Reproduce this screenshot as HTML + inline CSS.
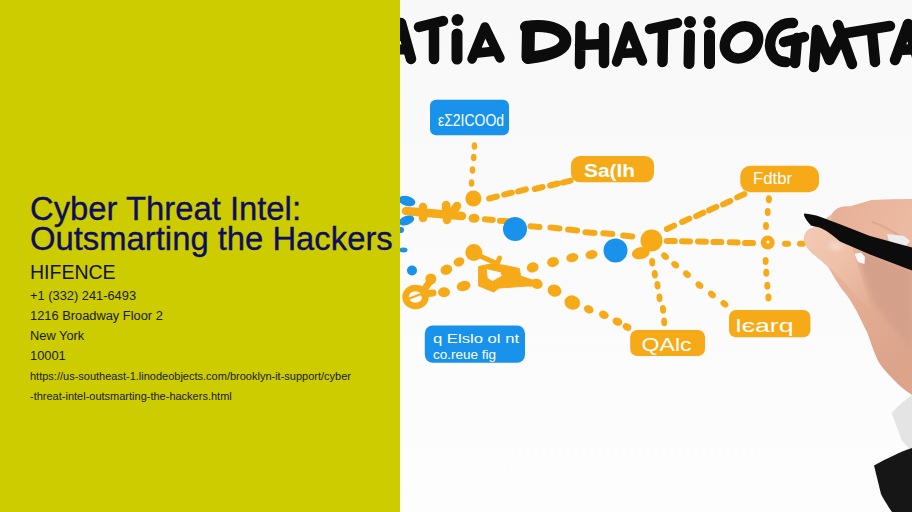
<!DOCTYPE html>
<html><head><meta charset="utf-8">
<style>
html,body{margin:0;padding:0;width:912px;height:512px;overflow:hidden;}
body{font-family:"Liberation Sans",sans-serif;background:#fff;position:relative;}
#left{position:absolute;left:0;top:0;width:400px;height:512px;background:#cccc00;}
#right{position:absolute;left:400px;top:0;width:512px;height:512px;background:linear-gradient(180deg,#f8f8f8 0%,#fafafa 40%,#fdfdfd 100%);overflow:hidden;}
#right svg{position:absolute;left:0;top:0;}
.t{position:absolute;left:30px;white-space:nowrap;}
h1{position:absolute;left:30px;top:194px;margin:0;font-weight:normal;font-size:32.8px;line-height:30px;color:#0e0e60;white-space:nowrap;-webkit-text-stroke:0.35px #0e0e60;}
.co{top:261px;font-size:19.5px;color:#111133;}
.ln{font-size:12.85px;color:#1a1a1a;}
.url{font-size:11px;color:#1a1a1a;}
</style></head><body>
<div id="left">
<h1>Cyber Threat Intel:<br>Outsmarting the Hackers</h1>
<div class="t co">HIFENCE</div>
<div class="t ln" style="top:288px">+1 (332) 241-6493</div>
<div class="t ln" style="top:308px">1216 Broadway Floor 2</div>
<div class="t ln" style="top:328px">New York</div>
<div class="t ln" style="top:348px">10001</div>
<div class="t url" style="top:370px">https://us-southeast-1.linodeobjects.com/brooklyn-it-support/cyber</div>
<div class="t url" style="top:390px">-threat-intel-outsmarting-the-hackers.html</div>
</div>
<div id="right">
<svg width="512" height="512" viewBox="400 0 512 512">
<g fill="none" stroke="#0c0c0c" stroke-width="10.5" stroke-linecap="round" stroke-linejoin="round">
<path d="M401 23 L411 59"/>
<rect x="398" y="44.5" width="9" height="10" fill="#0c0c0c" stroke="none"/><rect x="398" y="20" width="5" height="21" fill="#0c0c0c" stroke="none"/>
<path d="M419 27 L443 21 M434 28 L434 59"/>
<path d="M457 34 L457 59" stroke-width="11"/>
<path d="M472 59 L485 27 L500 58 M478 53 L496 51" stroke-width="9.5"/>
<path d="M528.5 28 L528 57" stroke-width="13"/>
<path d="M526 27 C552 23 568 32 565 43 C562 52 545 56 528 58" stroke-width="12"/>
<path d="M580.5 26 L580 64 M604 28 L604 63 M580 45 L604 44"/>
<path d="M616.5 62 L628.5 26 L642.5 61 M620 53.5 L639 52.5" stroke-width="9.5"/>
<path d="M650 29 L677 23 M663 31 L662.5 62"/>
<path d="M689.5 35 L689 63.5 M709.5 35 L709.5 63.5" stroke-width="11"/>
<ellipse cx="741.5" cy="42.4" rx="18" ry="14.5" stroke-width="10.5" transform="rotate(-40 741.5 42.4)"/>
<path d="M793 23 C778 22 770 34 770 46 C771 57 778 62 786 62 M784 42 L804 37 M797 38 L795 63"/>
<path d="M814 67 L817 30 L829.5 60 L843 34 M838 25 L852 64"/>
<path d="M847 33 L890 26 M872 31 L875 62"/>
<path d="M895 60 L908 24 L918 60 M900 50 L914 49"/>
</g>
<g fill="#0c0c0c"><circle cx="457.5" cy="20" r="6"/><circle cx="690" cy="22" r="6"/><circle cx="709.5" cy="22" r="6"/></g>
<rect x="430" y="99.8" width="79" height="35.4" rx="6" fill="#1892ea"/>
<rect x="571" y="156" width="83" height="26.3" rx="9" fill="#f7aa17"/>
<rect x="740.3" y="165.8" width="78.7" height="26.5" rx="10" fill="#f7aa17"/>
<rect x="424.8" y="325.4" width="100.2" height="37.4" rx="8" fill="#1892ea"/>
<rect x="630.2" y="330" width="74.8" height="26" rx="7" fill="#f7aa17"/>
<rect x="729" y="310" width="81.4" height="27.3" rx="7" fill="#f7aa17"/>
<g fill="#fff" font-family="Liberation Sans, sans-serif">
<text x="438" y="125.5" font-size="16" textLength="66" lengthAdjust="spacingAndGlyphs">&#949;&#931;2ICOOd</text>
<text x="584" y="176.5" font-size="19" font-weight="bold" textLength="51" lengthAdjust="spacingAndGlyphs">Sa(Ih</text>
<text x="753" y="183.5" font-size="17" textLength="39" lengthAdjust="spacingAndGlyphs">Fdtbr</text>
<text x="433" y="342.5" font-size="13" textLength="86" lengthAdjust="spacingAndGlyphs">q Elslo ol nt</text>
<text x="433" y="359" font-size="12" textLength="63" lengthAdjust="spacingAndGlyphs">co.reue fig</text>
<text x="641.6" y="350.5" font-size="19" textLength="50" lengthAdjust="spacingAndGlyphs">QAlc</text>
<text x="735.5" y="331.5" font-size="18" textLength="58" lengthAdjust="spacingAndGlyphs">l&#1108;arq</text>
</g>
<g fill="#f7aa17">
<ellipse cx="474.4" cy="146" rx="2.8" ry="3.8" transform="rotate(0 474.4 146)"/>
<ellipse cx="473.7" cy="157.5" rx="2.8" ry="3.8" transform="rotate(0 473.7 157.5)"/>
<ellipse cx="472.5" cy="170" rx="2.8" ry="3.8" transform="rotate(0 472.5 170)"/>
<ellipse cx="471.5" cy="183" rx="2.8" ry="3.8" transform="rotate(0 471.5 183)"/>
<ellipse cx="473.4" cy="198.5" rx="8" ry="8" transform="rotate(0 473.4 198.5)"/>
<ellipse cx="651.5" cy="240.5" rx="11" ry="11" transform="rotate(0 651.5 240.5)"/>
<ellipse cx="473.8" cy="252.4" rx="8.5" ry="8.5" transform="rotate(0 473.8 252.4)"/>
<ellipse cx="640.7" cy="253.2" rx="9" ry="6" transform="rotate(-10 640.7 253.2)"/>
<ellipse cx="459" cy="261.9" rx="5.5" ry="4.5" transform="rotate(-20 459 261.9)"/>
<ellipse cx="446.4" cy="269.7" rx="6" ry="5" transform="rotate(-20 446.4 269.7)"/>
<ellipse cx="444" cy="292.3" rx="6" ry="5" transform="rotate(0 444 292.3)"/>
<ellipse cx="463.6" cy="286" rx="7" ry="5" transform="rotate(-15 463.6 286)"/>
<ellipse cx="430.8" cy="279" rx="5.5" ry="5.5" transform="rotate(0 430.8 279)"/>
<ellipse cx="532.7" cy="267.4" rx="6" ry="5" transform="rotate(-15 532.7 267.4)"/>
<ellipse cx="553" cy="262" rx="6" ry="5" transform="rotate(-15 553 262)"/>
<ellipse cx="572.3" cy="257.6" rx="6" ry="4.5" transform="rotate(-10 572.3 257.6)"/>
<ellipse cx="591.5" cy="254.6" rx="6" ry="4.5" transform="rotate(-10 591.5 254.6)"/>
<ellipse cx="474" cy="218.3" rx="5.5" ry="4.5" transform="rotate(0 474 218.3)"/>
<ellipse cx="536.8" cy="283.8" rx="6" ry="5" transform="rotate(20 536.8 283.8)"/>
<ellipse cx="554.5" cy="290.6" rx="7" ry="6" transform="rotate(20 554.5 290.6)"/>
<ellipse cx="572.3" cy="302.5" rx="8" ry="7" transform="rotate(20 572.3 302.5)"/>
<ellipse cx="588.7" cy="309.3" rx="5" ry="4" transform="rotate(25 588.7 309.3)"/>
<ellipse cx="603.8" cy="314.8" rx="5" ry="4" transform="rotate(25 603.8 314.8)"/>
<ellipse cx="617.4" cy="321.6" rx="5" ry="4" transform="rotate(25 617.4 321.6)"/>
<ellipse cx="627" cy="327" rx="4.5" ry="3.5" transform="rotate(25 627 327)"/>
<ellipse cx="768.9" cy="199.2" rx="3" ry="4" transform="rotate(0 768.9 199.2)"/>
<ellipse cx="767.7" cy="212" rx="3" ry="4" transform="rotate(0 767.7 212)"/>
<ellipse cx="766" cy="226" rx="3" ry="4" transform="rotate(0 766 226)"/>
<ellipse cx="765.6" cy="261" rx="3" ry="4" transform="rotate(0 765.6 261)"/>
<ellipse cx="766.3" cy="272.8" rx="3" ry="4" transform="rotate(0 766.3 272.8)"/>
<ellipse cx="767.3" cy="285.7" rx="3" ry="4" transform="rotate(0 767.3 285.7)"/>
<ellipse cx="768.4" cy="297.4" rx="3" ry="4" transform="rotate(0 768.4 297.4)"/>
<ellipse cx="652.2" cy="262.2" rx="3" ry="4.3" transform="rotate(-5 652.2 262.2)"/>
<ellipse cx="654.8" cy="274.2" rx="3" ry="4.3" transform="rotate(-5 654.8 274.2)"/>
<ellipse cx="657.5" cy="285.2" rx="3" ry="4.3" transform="rotate(-5 657.5 285.2)"/>
<ellipse cx="659.5" cy="297.7" rx="3" ry="4.3" transform="rotate(-5 659.5 297.7)"/>
<ellipse cx="663" cy="309.4" rx="3" ry="4.3" transform="rotate(-5 663 309.4)"/>
<ellipse cx="664.2" cy="321.9" rx="3" ry="4.3" transform="rotate(-5 664.2 321.9)"/>
<ellipse cx="665" cy="256.2" rx="4.3" ry="3.2" transform="rotate(40 665 256.2)"/>
<ellipse cx="675.2" cy="264.8" rx="4.3" ry="3.2" transform="rotate(40 675.2 264.8)"/>
<ellipse cx="686.9" cy="274.2" rx="4.3" ry="3.2" transform="rotate(40 686.9 274.2)"/>
<ellipse cx="699.4" cy="285.2" rx="4.3" ry="3.2" transform="rotate(40 699.4 285.2)"/>
<ellipse cx="711.9" cy="294.5" rx="4.3" ry="3.2" transform="rotate(40 711.9 294.5)"/>
<ellipse cx="724.4" cy="303.9" rx="4.3" ry="3.2" transform="rotate(40 724.4 303.9)"/>
</g>
<path d="M489.1 198.5 L496.9 196.5 M504.1 194.7 L511.9 192.7 M518.1 191.4 L525.9 189.4 M534.8 189.0 L542.6 187.0 M550.1 185.5 L557.9 183.5 M562.9 182.7 L570.7 180.7 M484.8 219.3 L492.8 219.9 M499.9 220.7 L507.9 221.3 M530.5 226.3 L539.5 227.1 M550.5 227.6 L559.5 228.4 M568.1 229.6 L577.1 230.4 M585.5 232.2 L594.5 233.0 M603.3 233.3 L612.3 234.1 M623.2 235.6 L632.2 236.4 M666.8 240.9 L674.8 241.1 M682.0 241.3 L690.0 241.5 M698.0 241.5 L706.0 241.7 M713.3 241.9 L721.3 242.1 M729.7 242.3 L737.7 242.5 M745.0 242.9 L753.0 243.1 M785.0 243.7 L788.0 243.7 M800.0 243.8 L803.0 243.8 M666.9 229.0 L674.1 225.6 M682.1 222.0 L689.3 218.6 M696.2 216.1 L703.4 212.7 M709.1 210.3 L716.3 206.9 M723.1 204.4 L730.3 201.0 M737.2 197.4 L744.4 194.0" stroke="#f7aa17" stroke-width="6" stroke-linecap="round" fill="none"/>
<path d="M406 211 L462 216 M423 207 L423 218 M446 205 L447 220 M457 206 L452 213" stroke="#f7aa17" stroke-width="8.5" stroke-linecap="round" fill="none"/>
<ellipse cx="415.5" cy="297" rx="10" ry="9" stroke="#f7aa17" stroke-width="6.5" fill="none"/>
<path d="M424 290 L431 280 M424 294 L433 293" stroke="#f7aa17" stroke-width="7" stroke-linecap="round" fill="none"/>
<path d="M408 299 L421 294" stroke="#f7aa17" stroke-width="2" fill="none"/>
<path d="M478.6 266.5 L491.5 263.8 L505.4 265.4 L519.4 268.6 L520.5 276.1 L538 282 C536 285 531 287 528 286 L499 288 L493.6 292 L478.6 285.8 Z M486.1 268.6 L501.1 271.9 L502.2 276.1 L492.6 281.5 L487.2 278.3 Z" fill="#f7aa17" fill-rule="evenodd" stroke="#f7aa17" stroke-width="1" stroke-linejoin="round"/>
<path d="M480 256 L495.8 263 M499.5 258 L497 264" stroke="#f7aa17" stroke-width="5" stroke-linecap="round"/>
<circle cx="767.7" cy="242.6" r="7" fill="#f7aa17"/><circle cx="768" cy="242" r="1.5" fill="#fff"/>
<g fill="#1892ea">
<circle cx="515" cy="229" r="12"/><circle cx="615.5" cy="250.5" r="12"/>
<ellipse cx="407" cy="201" rx="8.5" ry="5" transform="rotate(15 407 201)"/>
<ellipse cx="406.5" cy="220.5" rx="8" ry="4.5" transform="rotate(-20 406.5 220.5)"/>
<circle cx="401" cy="230" r="3"/><ellipse cx="403.5" cy="250" rx="4" ry="2.5"/><circle cx="412" cy="270.5" r="5"/>
</g>
<defs><linearGradient id="sk" x1="0" y1="0" x2="0.4" y2="1"><stop offset="0" stop-color="#eec3ab"/><stop offset="0.45" stop-color="#e6b298"/><stop offset="1" stop-color="#dca48b"/></linearGradient><linearGradient id="th" x1="0" y1="0" x2="1" y2="1"><stop offset="0" stop-color="#f2cab4"/><stop offset="0.5" stop-color="#eec0a8"/><stop offset="1" stop-color="#e3ab92"/></linearGradient><linearGradient id="ix" x1="0" y1="0" x2="1" y2="0.3"><stop offset="0" stop-color="#e6af95"/><stop offset="1" stop-color="#ecbaa1"/></linearGradient><filter id="bl" x="-20%" y="-20%" width="140%" height="140%"><feGaussianBlur stdDeviation="2.5"/></filter></defs>
<path d="M832 214 C836 207 843 206 850 206.5 L872 200 L912 199 L912 395 C905 390 899 386 895 381 C886 372 880 365 877.6 360 C873 350 870 340 867 332 C862 322 859 316 856.6 311 C852 303 848 296 842.5 290 C838 284 833 275 827.4 266 C823 262 822 261 819.2 258.9 C813 254 811 252 809.7 250.7 C806 247 804 243 804.2 239 C804 234 807 229 813.8 227.4 Z" fill="url(#sk)"/>
<path d="M832 214 C836 207 843 206 850 206.5 L872 200 L912 199 L912 247 C895 242 880 236 866 233 C850 228 840 225 832 222 C831 219 831 216 832 214 Z" fill="url(#ix)"/>
<path d="M872 222 C880 224 890 230 900 236" stroke="#d69c85" stroke-width="2" fill="none" opacity="0.6"/>
<path d="M860 250 L912 270 L912 350 C900 335 885 320 875 305 C868 290 864 275 860 262 Z" fill="#d5a08a" filter="url(#bl)"/>
<path d="M804.2 237 C805 231 809 228 813.8 227.4 C820 226 830 228 840 232 L852 246 C856 262 864 285 872 310 C866 306 860 300 856 296 C850 288 845 283 838 276 C833 271 830 268 827.4 266 C823 262 822 261 819.2 258.9 C813 254 811 252 809.7 250.7 C806 247 804 243 804.2 237 Z" fill="url(#th)"/>
<ellipse cx="836" cy="246" rx="7" ry="4" fill="#f8e2d6" opacity="0.7" filter="url(#bl)"/>
<path d="M854.6 254 L861 252.5 L865 257 L864.4 264 L858 262 Z" fill="#fafafa"/>
<path d="M887 234 L904 236 L910 241 L906 246 L890 245 Z" fill="#ececec"/>
<path d="M804.2 213.5 C810 214 815 215 820 216.7 L840 224.3 L870 236 L912 247.5 L912 270.4 L870 254.5 L840 241.4 C832 235 826 230 820 227.8 C816 226.5 813 226 811 225.4 C807 221 803 216 804.2 213.5 Z" fill="#0c0c0c"/>
<path d="M891.6 412.8 C898 406 905 400 912 395 L912 451 C908 447 905 444 902 441 Z" fill="#e4e4e4"/>
<path d="M874 465.4 C888 458 900 452 912 448 L912 512 L892 512 C887 505 883 498 881 494 Z" fill="#161616"/>
</svg>
</div>
</body></html>
